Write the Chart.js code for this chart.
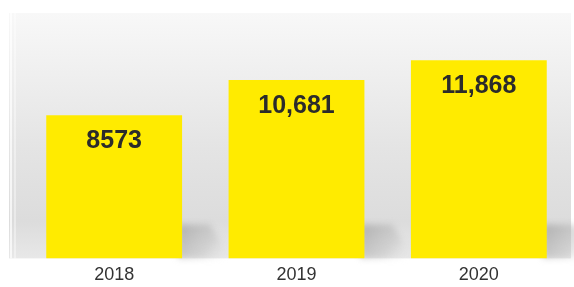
<!DOCTYPE html>
<html>
<head>
<meta charset="utf-8">
<script src="https://cdn.jsdelivr.net/npm/chart.js@4"></script>
<style>
html,body{margin:0;padding:0;background:#fff;}
#wrap{width:574px;height:287px;position:relative;}
</style>
</head>
<body>
<div id="wrap"><canvas id="c" width="574" height="287"></canvas></div>
<script>
const categories = ["2018", "2019", "2020"];
const values = [8573, 10681, 11868];
const valueLabels = ["8573", "10,681", "11,868"];

const bgPlugin = {
  id: 'bg',
  beforeDraw(chart) {
    const {ctx, chartArea} = chart;
    const top = chartArea.top, bottom = chartArea.bottom;
    const g = ctx.createLinearGradient(0, top, 0, bottom);
    g.addColorStop(0, '#f8f8f8');
    g.addColorStop(0.55, '#e4e4e4');
    g.addColorStop(0.85, '#dcdcdc');
    g.addColorStop(1, '#e8e8e8');
    ctx.save();
    ctx.fillStyle = g;
    ctx.fillRect(9, top, 562, bottom - top);
    ctx.fillStyle = 'rgba(255,255,255,0.7)';
    ctx.fillRect(10, top, 2, bottom - top);
    ctx.fillStyle = 'rgba(255,255,255,0.4)';
    ctx.fillRect(14, top, 2, bottom - top);
    ctx.restore();
  },
  beforeDatasetsDraw(chart) {
    const {ctx} = chart;
    const meta = chart.getDatasetMeta(0);
    ctx.save();
    ctx.filter = 'blur(3px)';
    meta.data.forEach(bar => {
      const right = bar.x + bar.width / 2;
      const b = bar.base;
      const g = ctx.createLinearGradient(right, b - 33, right + 45, b);
      g.addColorStop(0, 'rgba(150,150,150,0.6)');
      g.addColorStop(0.6, 'rgba(175,175,175,0.35)');
      g.addColorStop(1, 'rgba(230,230,230,0)');
      ctx.fillStyle = g;
      ctx.beginPath();
      ctx.moveTo(right - 4, b - 34);
      ctx.lineTo(right + 28, b - 34);
      ctx.lineTo(right + 48, b);
      ctx.lineTo(right - 4, b);
      ctx.closePath();
      ctx.fill();
    });
    ctx.restore();
  },
  afterDatasetsDraw(chart) {
    const {ctx} = chart;
    const meta = chart.getDatasetMeta(0);
    ctx.save();
    ctx.fillStyle = '#2b2b2b';
    ctx.font = 'bold 25px "Liberation Sans", Arial, sans-serif';
    ctx.textAlign = 'center';
    ctx.textBaseline = 'middle';
    meta.data.forEach((bar, i) => {
      ctx.fillText(valueLabels[i], bar.x, bar.y + 26);
    });
    ctx.restore();
  }
};

new Chart(document.getElementById('c'), {
  type: 'bar',
  data: {
    labels: categories,
    datasets: [{
      data: values,
      backgroundColor: '#ffeb00',
      borderWidth: 0,
      categoryPercentage: 1,
      barPercentage: 0.745
    }]
  },
  options: {
    responsive: false,
    animation: false,
    layout: {padding: {left: 23, right: 4, top: 13, bottom: -5}},
    plugins: {legend: {display: false}, tooltip: {enabled: false}},
    scales: {
      x: {
        grid: {display: false, drawTicks: false, tickLength: 0},
        border: {display: false},
        ticks: {
          color: '#333333',
          padding: 6,
          font: {family: '"Liberation Sans", Arial, sans-serif', size: 18}
        }
      },
      y: {
        display: false,
        min: 0,
        max: 14700
      }
    }
  },
  plugins: [bgPlugin]
});
</script>
</body>
</html>
